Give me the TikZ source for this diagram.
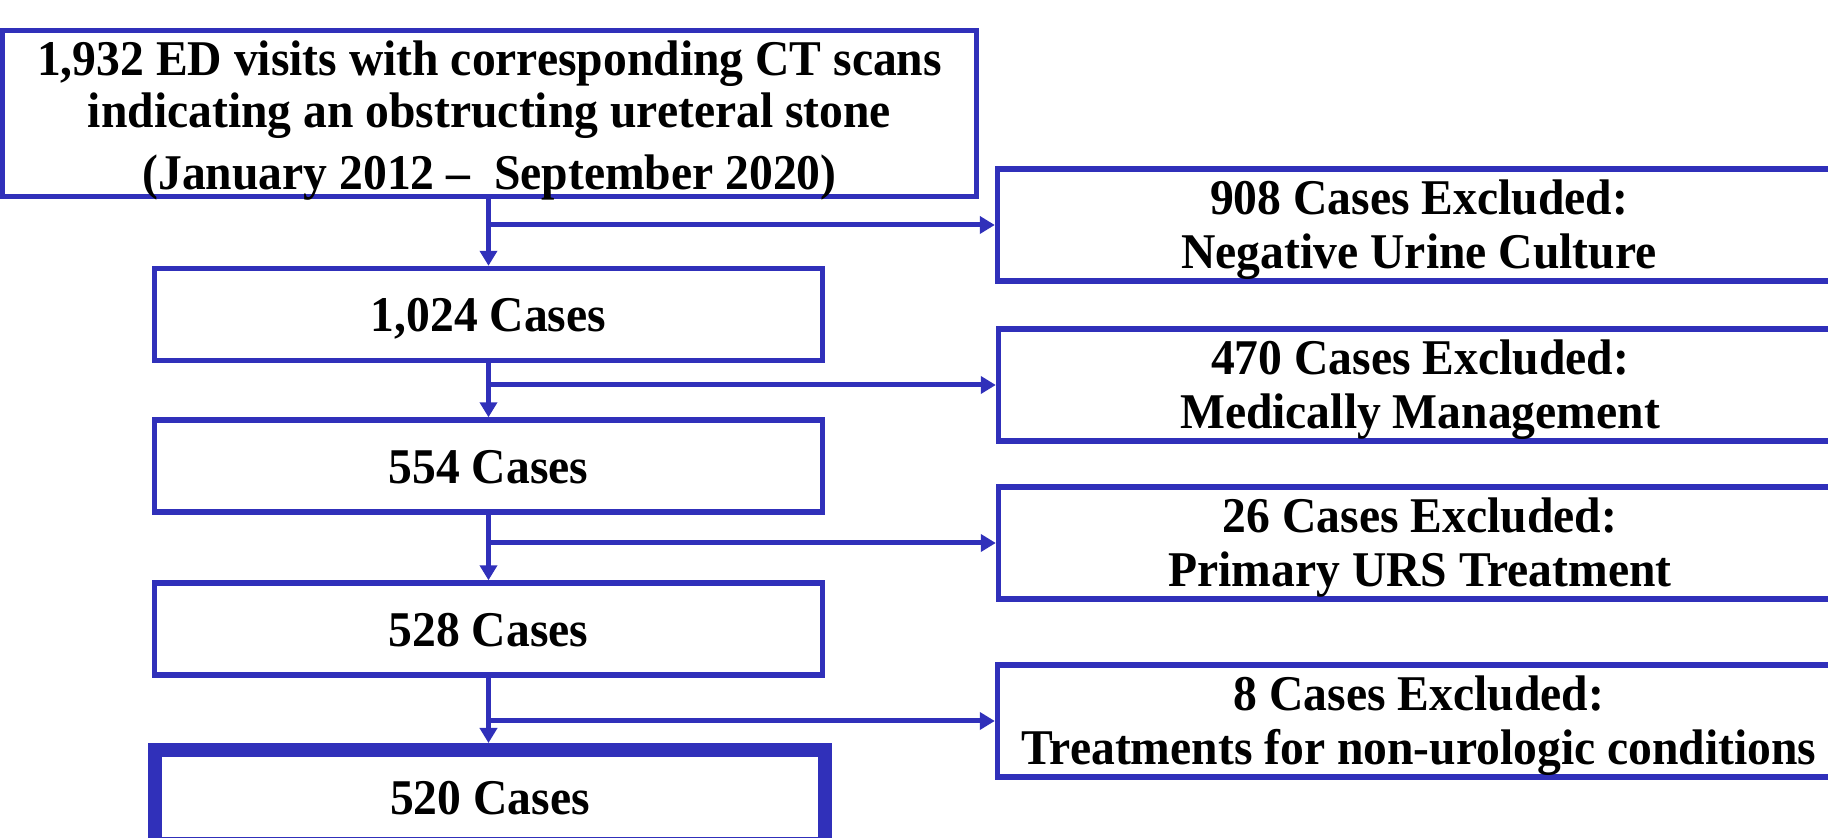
\documentclass[tikz,border=0pt]{standalone}
\usepackage{fontspec}
\setmainfont{Liberation Serif}[FakeStretch=0.952]
\usetikzlibrary{arrows.meta}
\definecolor{flowblue}{RGB}{48,48,186}
\newcommand\topstrut[1]{\rule{0pt}{#1}}
\newcommand\botstrut{\rule[-6pt]{0pt}{6pt}}
\tikzset{
  box/.style={draw=flowblue, line width=2.7pt, rectangle, inner sep=0pt, align=center,
    font=\fontsize{25pt}{27pt}\selectfont\bfseries},
  mainbox/.style={box, minimum width=334pt, minimum height=46pt, text height=17.5pt, text depth=0pt},
  exbox/.style={box, minimum width=421.5pt, minimum height=55.5pt},
  finalbox/.style={box, line width=7pt, minimum width=335pt, minimum height=47pt, text height=17.5pt, text depth=0pt},
  conn/.style={draw=flowblue, line width=2.5pt, -{Triangle[length=7.5pt,width=8.5pt]}}
}
\begin{document}
\begin{tikzpicture}[x=0.5pt,y=-0.5pt]
\useasboundingbox (0,0) rectangle (1828,838);
\clip (0,0) rectangle (1828,838);
\fill[white] (0,0) rectangle (1828,838);
\node[box, minimum width=487pt, minimum height=83pt, font=\fontsize{25pt}{26pt}\selectfont\bfseries] (top) at (489.5,113.5)
  {\raisebox{0pt}[20pt][58.4pt]{\parbox[t]{487pt}{\centering 1,932 ED visits with corresponding CT scans\\indicating an obstructing ureteral stone\\[5pt](January 2012 --\ \ September 2020)}}};
\node[mainbox] (c1) at (488.5,314.5) {1,024 Cases};
\node[mainbox] (c2) at (488.5,466) {554 Cases};
\node[mainbox] (c3) at (488.5,629) {528 Cases};
\node[finalbox] (c4) at (490,797) {520 Cases};
\node[exbox] (e1) at (1419,225) {\topstrut{23pt}908 Cases Excluded:\\Negative Urine Culture\botstrut};
\node[exbox] (e2) at (1420,385) {\topstrut{23pt}470 Cases Excluded:\\Medically Management\botstrut};
\node[exbox] (e3) at (1420,543) {\topstrut{23pt}26 Cases Excluded:\\Primary URS Treatment\botstrut};
\node[exbox] (e4) at (1419,721) {\topstrut{23pt}8 Cases Excluded:\\Treatments for non-urologic conditions\botstrut};
\draw[conn] (c1.north |- top.south) -- (c1.north);
\draw[conn] (c1.north |- e1.west) -- (e1.west);
\draw[conn] (c1.south) -- (c2.north);
\draw[conn] (c1.south |- e2.west) -- (e2.west);
\draw[conn] (c2.south) -- (c3.north);
\draw[conn] (c2.south |- e3.west) -- (e3.west);
\draw[conn] (c3.south) -- (c3.south |- c4.north);
\draw[conn] (c3.south |- e4.west) -- (e4.west);
\end{tikzpicture}
\end{document}
